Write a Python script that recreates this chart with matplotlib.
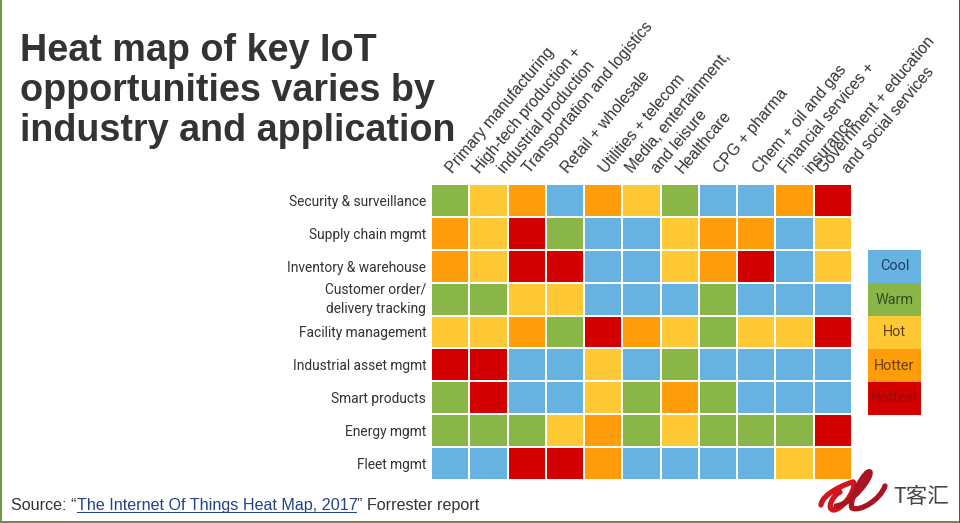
import matplotlib

matplotlib.use("Agg")
import matplotlib.pyplot as plt
import numpy as np
from matplotlib.colors import BoundaryNorm, ListedColormap
from matplotlib.patches import PathPatch, Rectangle
from matplotlib.path import Path

W, H = 960, 523

ROW_LABELS = [
    "Security & surveillance",
    "Supply chain mgmt",
    "Inventory & warehouse",
    "Customer order/\ndelivery tracking",
    "Facility management",
    "Industrial asset mgmt",
    "Smart products",
    "Energy mgmt",
    "Fleet mgmt",
]
COLUMN_LABELS = [
    "Primary manufacturing",
    "High-tech production +\nindustrial production",
    "Transportation and logistics",
    "Retail + wholesale",
    "Utilities + telecom",
    "Media, entertainment,\nand leisure",
    "Healthcare",
    "CPG + pharma",
    "Chem + oil and gas",
    "Financial services +\ninsurance",
    "Government + education\nand social services",
]
LEVELS = ["Cool", "Warm", "Hot", "Hotter", "Hottest"]
LEVEL_COLORS = ["#66b2e0", "#8ab648", "#ffc935", "#ff9e0a", "#d40000"]
LEVEL_TEXT_COLORS = ["#1f3f66", "#2f4f1f", "#5a4210", "#6b3d00", "#8f1010"]

# 0 cool, 1 warm, 2 hot, 3 hotter, 4 hottest
HEAT = [
    [1, 2, 3, 0, 3, 2, 1, 0, 0, 3, 4],
    [3, 2, 4, 1, 0, 0, 2, 3, 3, 0, 2],
    [3, 2, 4, 4, 0, 0, 2, 3, 4, 0, 2],
    [1, 1, 2, 2, 0, 0, 0, 1, 0, 0, 0],
    [2, 2, 3, 1, 4, 3, 2, 1, 2, 2, 4],
    [4, 4, 0, 0, 2, 0, 1, 0, 0, 0, 0],
    [1, 4, 0, 0, 2, 1, 3, 1, 0, 0, 0],
    [1, 1, 1, 2, 3, 1, 2, 1, 1, 1, 4],
    [0, 0, 4, 4, 3, 0, 0, 0, 0, 2, 3],
]


def px_axes(fig, left, top, right, bottom):
    return fig.add_axes([left / W, 1 - bottom / H, (right - left) / W, (bottom - top) / H])


def main():
    plt.rcParams["font.family"] = ["Liberation Sans", "DejaVu Sans"]
    fig = plt.figure(figsize=(9.6, 5.23), dpi=100, facecolor="white")

    # page border left over from the slide
    fig.add_artist(Rectangle((0, 0), 2 / W, 1, transform=fig.transFigure, color="#6f9a4a", lw=0))
    fig.add_artist(Rectangle((0, 0), 1, 2 / H, transform=fig.transFigure, color="#6f8a5a", lw=0))
    fig.add_artist(Rectangle((959 / W, 0), 1 / W, 1, transform=fig.transFigure, color="#555555", lw=0))

    cmap = ListedColormap(LEVEL_COLORS)
    norm = BoundaryNorm(np.arange(-0.5, 5.5), cmap.N)

    ax = px_axes(fig, 431, 184, 852, 480)
    ax.pcolormesh(np.array(HEAT), cmap=cmap, norm=norm, edgecolors="white", linewidth=1.1)
    ax.set_ylim(len(ROW_LABELS), 0)
    ax.set_xlim(0, len(COLUMN_LABELS))
    for spine in ax.spines.values():
        spine.set_visible(False)
    ax.tick_params(length=0)
    ax.set_xticks([])
    ax.set_yticks(np.arange(len(ROW_LABELS)) + 0.5)
    ax.set_yticklabels(ROW_LABELS, fontsize=9.9, color="#333333", family="Roboto", linespacing=1.5)
    ax.tick_params(axis="y", pad=3.5)
    for tick_label in ax.get_yticklabels():
        if "\n" in tick_label.get_text():
            tick_label.set_verticalalignment("center")

    # rotated industry labels, each line starts at the same height
    for col, label in enumerate(COLUMN_LABELS):
        lines = label.split("\n")
        offsets = [-9, 16] if len(lines) == 2 else [3]
        for line, offset in zip(lines, offsets):
            ax.annotate(
                line,
                xy=(col + 0.5, 0),
                xycoords="data",
                xytext=(offset, 10),
                textcoords="offset pixels",
                rotation=50,
                rotation_mode="anchor",
                ha="left",
                va="baseline",
                fontsize=11.3,
                color="#333333",
            )

    # legend column
    lax = px_axes(fig, 868, 250, 921, 415)
    lax.pcolormesh(np.arange(len(LEVELS))[:, None], cmap=cmap, norm=norm)
    lax.set_ylim(len(LEVELS), 0)
    lax.axis("off")
    for i, level in enumerate(LEVELS):
        lax.text(0.5, i + 0.5, level, ha="center", va="center", fontsize=10.4, family="Roboto", color=LEVEL_TEXT_COLORS[i])

    fig.text(
        20 / W, 1 - 141 / H,
        "Heat map of key IoT\nopportunities varies by\nindustry and application",
        fontsize=27.2, fontweight="bold", color="#333333", linespacing=1.14, ha="left", va="baseline",
    )

    # source line, the report title is a link
    y = 1 - 510 / H
    fig.text(11 / W, y, "Source: “", fontsize=11.6, color="#333333", va="baseline")
    fig.text(77 / W, y, "The Internet Of Things Heat Map, 2017", fontsize=11.6, color="#1f4488", va="baseline")
    fig.add_artist(Rectangle((77 / W, 1 - 513 / H), 280 / W, 1.2 / H, transform=fig.transFigure, color="#1f4488", lw=0))
    fig.text(357 / W, y, "” Forrester report", fontsize=11.6, color="#333333", va="baseline")

    # watermark logo
    logo = fig.add_axes([0, 0, 1, 1], facecolor="none")
    logo.set_xlim(0, W)
    logo.set_ylim(H, 0)
    logo.axis("off")
    m, c = Path.MOVETO, Path.CURVE4
    loop_a = Path(
        [(821, 505), (822, 494), (845, 484), (853, 482), (858, 484), (846, 508), (834, 510), (826, 510), (832, 496), (840, 492)],
        [m, c, c, c, c, c, c, c, c, c],
    )
    loop_b = Path(
        [(836, 506), (852, 504), (872, 478), (870, 472), (866, 468), (848, 500), (852, 508), (860, 512), (880, 500), (885, 486)],
        [m, c, c, c, c, c, c, c, c, c],
    )
    logo.add_patch(PathPatch(loop_a, fill=False, edgecolor="#d4141c", lw=3.8, capstyle="round"))
    logo.add_patch(PathPatch(loop_b, fill=False, edgecolor="#a81420", lw=3.8, capstyle="round"))
    logo.text(893, 503, "T客汇", fontsize=15.5, color="#444444", family=["Noto Sans CJK SC", "DejaVu Sans"], va="baseline")

    fig.savefig("out.png", dpi=100)


if __name__ == "__main__":
    main()
